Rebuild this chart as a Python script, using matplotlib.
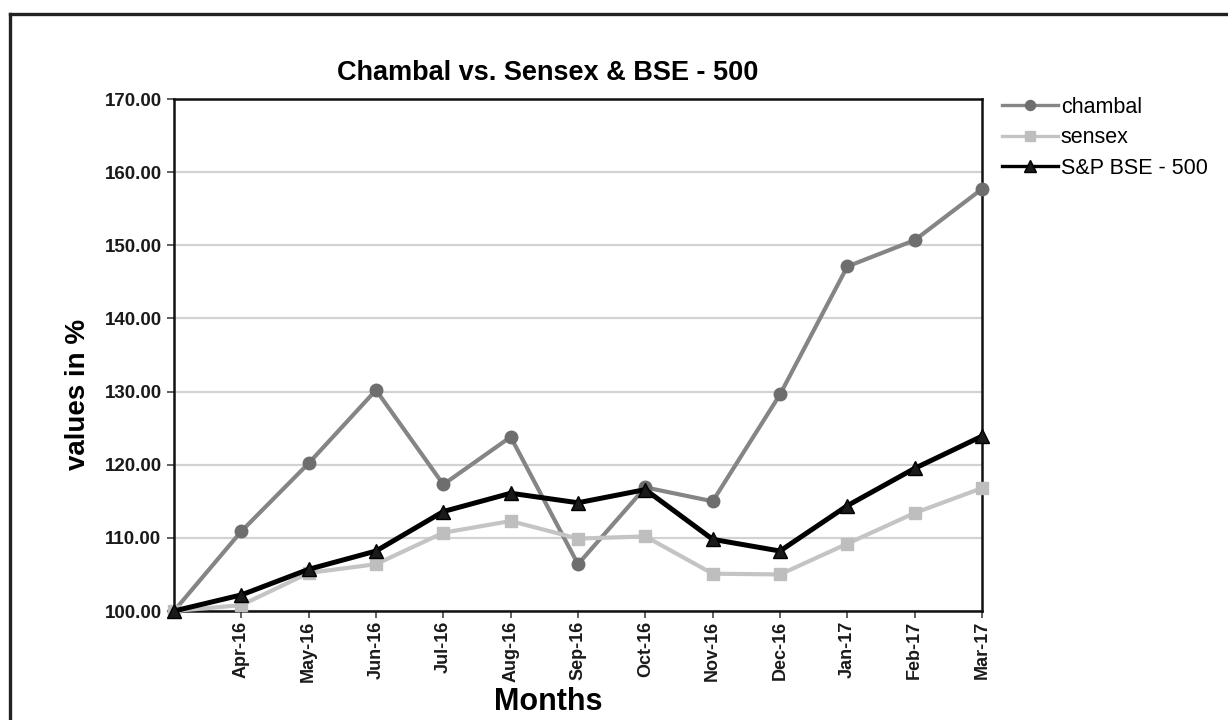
import matplotlib
matplotlib.use("Agg")
import matplotlib.pyplot as plt
from matplotlib.lines import Line2D

months = ['', 'Apr-16', 'May-16', 'Jun-16', 'Jul-16', 'Aug-16', 'Sep-16',
          'Oct-16', 'Nov-16', 'Dec-16', 'Jan-17', 'Feb-17', 'Mar-17']
chambal = [100, 110.9, 120.2, 130.2, 117.3, 123.8, 106.4, 116.9, 115.0, 129.6, 147.1, 150.7, 157.7]
sensex = [100, 100.8, 105.2, 106.4, 110.7, 112.3, 109.9, 110.2, 105.1, 105.0, 109.2, 113.4, 116.8]
bse500 = [100, 102.2, 105.7, 108.2, 113.6, 116.1, 114.8, 116.6, 109.8, 108.2, 114.4, 119.5, 123.9]
yticks = [100, 110, 120, 130, 140, 150, 160, 170]

plt.rcParams['font.family'] = ['Liberation Sans', 'DejaVu Sans']

W, H = 1228, 720
fig = plt.figure(figsize=(W / 100, H / 100), dpi=100)
ax = fig.add_axes([174 / W, 1 - 611 / H, (982 - 174) / W, (611 - 99) / H])

x = list(range(len(months)))
ax.plot(x, chambal, color='#858585', lw=3.0, marker='o', ms=9,
        mfc='#6e6e6e', mec='#6e6e6e', label='chambal', clip_on=False, zorder=3)
ax.plot(x, sensex, color='#c4c4c4', lw=3.0, marker='s', ms=8.5,
        mfc='#bebebe', mec='#bebebe', label='sensex', clip_on=False, zorder=4)
ax.plot(x, bse500, color='#000000', lw=3.6, marker='^', ms=10,
        mfc='#1a1a1a', mec='#000000', label='S&P BSE - 500', clip_on=False, zorder=5)

ax.set_xlim(0, len(months) - 1)
ax.set_ylim(100, 170)
ax.set_yticks(yticks)
ax.set_yticklabels([f'{v:.2f}' for v in yticks])
ax.set_xticks(x)
ax.set_xticklabels(months, rotation=90)
for lab in ax.get_yticklabels():
    lab.set_fontweight('bold')
    lab.set_fontsize(13.5)
    lab.set_color('#1a1a1a')
for lab in ax.get_xticklabels():
    lab.set_fontweight('bold')
    lab.set_fontsize(13)
    lab.set_color('#1a1a1a')
ax.tick_params(axis='both', direction='out', length=5, width=1.2, color='#444444')
ax.tick_params(axis='x', pad=2)
ax.tick_params(axis='y', pad=4)
ax.yaxis.grid(True, color='#d2d2d2', lw=1.6)
ax.set_axisbelow(True)
for s in ax.spines.values():
    s.set_linewidth(1.8)
    s.set_color('#111111')

fig.text(548 / W, 1 - 73 / H, 'Chambal vs. Sensex & BSE - 500', ha='center', va='center',
         fontsize=19.5, fontweight='bold')
fig.text(548 / W, 1 - 702 / H, 'Months', ha='center', va='center',
         fontsize=22, fontweight='bold')
fig.text(78 / W, 1 - 394 / H, 'values in %', ha='center', va='center', rotation=90,
         fontsize=20, fontweight='bold')

leg = ax.legend(loc='upper left', bbox_to_anchor=(993 / W, 1 - 88 / H),
                bbox_transform=fig.transFigure, frameon=False, fontsize=15.5,
                handlelength=2.6, handletextpad=0.15, labelspacing=0.45, markerscale=0.8,
                borderaxespad=0)
for h in leg.get_lines():
    h.set_linewidth(2.4)

# outer frame
fig.add_artist(Line2D([10 / W, 1.0], [1 - 13.5 / H, 1 - 13.5 / H], transform=fig.transFigure,
                      color='#222222', lw=2.4))
fig.add_artist(Line2D([10 / W, 10 / W], [0, 1 - 13.5 / H], transform=fig.transFigure,
                      color='#222222', lw=2.4))

fig.savefig('out.png', dpi=100)
